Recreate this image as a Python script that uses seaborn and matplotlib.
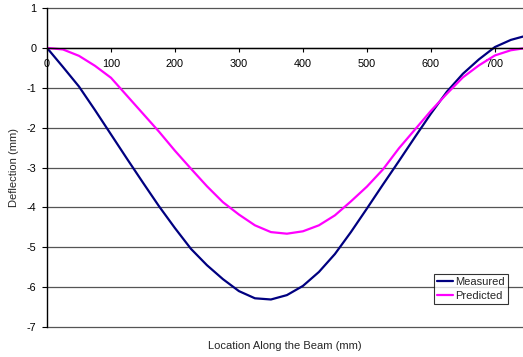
import numpy as np
import pandas as pd
import matplotlib
matplotlib.use("Agg")
import matplotlib.pyplot as plt
import seaborn as sns

# Beam deflection along the span, sampled every 25 mm
location = [0, 25, 50, 75, 100, 125, 150, 175, 200, 225, 250, 275, 300, 325, 350,
            375, 400, 425, 450, 475, 500, 525, 550, 575, 600, 625, 650, 675, 700, 725, 750]
measured = [0.0, -0.48, -0.97, -1.56, -2.17, -2.78, -3.38, -3.97, -4.52, -5.04, -5.45,
            -5.80, -6.10, -6.28, -6.31, -6.20, -5.97, -5.62, -5.17, -4.62, -4.03, -3.43,
            -2.84, -2.24, -1.65, -1.10, -0.65, -0.29, 0.02, 0.20, 0.31]
predicted = [0.0, -0.04, -0.20, -0.45, -0.75, -1.20, -1.65, -2.10, -2.58, -3.03, -3.47,
             -3.87, -4.18, -4.45, -4.62, -4.66, -4.60, -4.45, -4.20, -3.85, -3.48, -3.05,
             -2.52, -2.05, -1.58, -1.15, -0.74, -0.44, -0.19, -0.06, 0.0]
series_names = ["Measured", "Predicted"]
series_colors = ["#000080", "#FF00FF"]
x_ticks = [0, 100, 200, 300, 400, 500, 600, 700]
y_ticks = [1, 0, -1, -2, -3, -4, -5, -6, -7]

df = pd.DataFrame({
    "Location": location * 2,
    "Deflection": measured + predicted,
    "Series": [series_names[0]] * len(location) + [series_names[1]] * len(location),
})

sns.set_theme(style="white")
plt.rcParams["font.family"] = ["Liberation Sans", "DejaVu Sans"]

fig = plt.figure(figsize=(5.23, 3.57), dpi=100)
ax = fig.add_axes([47 / 523, 1 - 327 / 357, 476 / 523, 319 / 357])

sns.lineplot(data=df, x="Location", y="Deflection", hue="Series",
             palette=dict(zip(series_names, series_colors)), linewidth=1.6,
             ax=ax, legend=True)

ax.set_xlim(0, 744)
ax.set_ylim(-7, 1)
ax.set_xticks(x_ticks)
ax.set_yticks(y_ticks)
ax.set_xticklabels([str(v) for v in x_ticks])
ax.set_yticklabels([str(v) for v in y_ticks])

# horizontal gridlines
for v in y_ticks:
    ax.axhline(v, color="#555555", linewidth=0.9, zorder=0.5, clip_on=False)

for side in ["top", "right"]:
    ax.spines[side].set_visible(False)
ax.spines["bottom"].set_position(("data", 0))
ax.spines["bottom"].set_color("black")
ax.spines["bottom"].set_linewidth(1.0)
ax.spines["left"].set_color("black")
ax.spines["left"].set_linewidth(1.0)
ax.tick_params(axis="x", direction="out", length=3, width=0.8, pad=5,
               colors="black", labelsize=7.8)
ax.tick_params(axis="y", direction="out", length=3.5, width=0.8, pad=4,
               colors="black", labelsize=7.8)
ax.tick_params(axis="both", bottom=True, left=True)

ax.set_xlabel("Location Along the Beam (mm)", fontsize=8)
ax.set_ylabel("Deflection (mm)", fontsize=8)
ax.xaxis.set_label_coords(0.5, -0.045)
ax.yaxis.set_label_coords(-0.058, 0.5)

handles, labels = ax.get_legend_handles_labels()
leg = ax.legend(handles, labels, loc="lower left", bbox_to_anchor=(0.813, 0.072),
                fontsize=8, frameon=True, fancybox=False, handlelength=1.4,
                handletextpad=0.2, borderpad=0.3, labelspacing=0.3,
                borderaxespad=0)
leg.get_frame().set_edgecolor("black")
leg.get_frame().set_linewidth(0.8)

fig.savefig("out.png", dpi=100)
